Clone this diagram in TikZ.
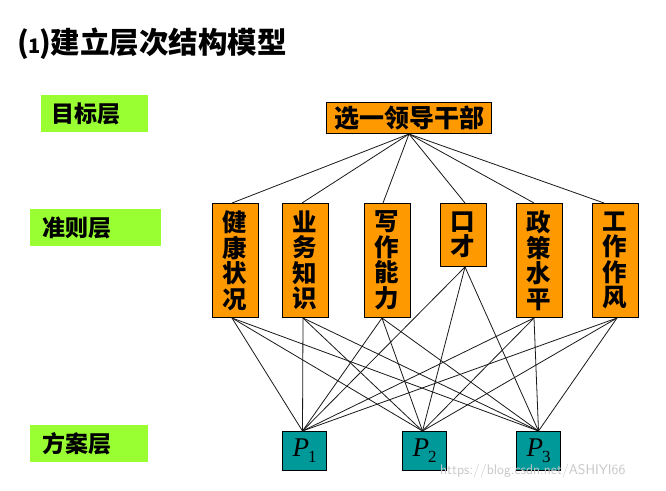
\documentclass[tikz,border=0pt]{standalone}
\usepackage{fontspec}
\newfontfamily\cjk{Noto Sans CJK SC}
\newfontfamily\tnr{Liberation Serif}
\definecolor{orangebox}{HTML}{FF9900}
\definecolor{tealbox}{HTML}{009999}
\definecolor{greenbox}{HTML}{99FF33}
\newcommand{\plabel}[1]{{\tnr\itshape\fontsize{27}{27}\selectfont P}\kern-1pt\raisebox{-6pt}{\tnr\fontsize{17}{17}\selectfont #1}}
\begin{document}
\begin{tikzpicture}[x=1pt,y=-1pt,
  goalbox/.style={draw=black, line width=1pt, fill=orangebox, inner sep=0pt, font=\cjk\bfseries\fontsize{25}{25}\selectfont},
  critbox/.style={draw=black, line width=1pt, fill=orangebox, inner sep=0pt, minimum width=46pt, align=center, font=\cjk\bfseries\fontsize{24.5}{25.5}\selectfont},
  altbox/.style={draw=black, line width=1pt, fill=tealbox, inner sep=0pt, minimum width=44pt, minimum height=39pt},
  levelbox/.style={fill=greenbox, inner sep=0pt, minimum height=37pt, anchor=north west, text width=#1, font=\cjk\bfseries\fontsize{23}{23}\selectfont},
  link/.style={line width=0.8pt, black!90}]
\useasboundingbox (0,0) rectangle (666,490);
\fill[white] (0,0) rectangle (666,490);

% title
\node[anchor=west, inner sep=0pt, font=\cjk\bfseries\fontsize{29.5}{29.5}\selectfont] (title) at (17,44) {(\kern-1pt{\fontsize{20}{20}\selectfont 1}\kern-1pt)建立层次结构模型};

% level labels
\node[levelbox=107pt] (lv1) at (41,95) {\hspace*{10pt}目标层};
\node[levelbox=131pt] (lv2) at (30,209) {\hspace*{12pt}准则层};
\node[levelbox=118pt] (lv3) at (30,425) {\hspace*{12pt}方案层};

% goal
\node[goalbox, minimum width=165pt, minimum height=31pt, anchor=north west] (goal) at (326,102) {选一领导干部};

% criteria
\node[critbox, minimum height=114pt, anchor=north] (c1) at (235,203) {健\\康\\状\\况};
\node[critbox, minimum height=114pt, anchor=north] (c2) at (305,203) {业\\务\\知\\识};
\node[critbox, minimum height=114pt, anchor=north] (c3) at (387,203) {写\\作\\能\\力};
\node[critbox, minimum height=63pt, anchor=north] (c4) at (463,203) {口\\才};
\node[critbox, minimum height=114pt, anchor=north] (c5) at (539,203) {政\\策\\水\\平};
\node[critbox, minimum height=114pt, anchor=north] (c6) at (615,203) {工\\作\\作\\风};

% alternatives
\node[altbox, anchor=north west] (p1) at (282,431) {\plabel{1}};
\node[altbox, anchor=north west] (p2) at (402,431) {\plabel{2}};
\node[altbox, anchor=north west] (p3) at (516,431) {\plabel{3}};

% goal -> criteria
\draw[link] (goal.south) -- ([xshift=-3pt]c1.north);
\draw[link] (goal.south) -- ([xshift=-3pt]c2.north);
\draw[link] (goal.south) -- ([xshift=-4pt]c3.north);
\draw[link] (goal.south) -- ([xshift=2pt]c4.north);
\draw[link] (goal.south) -- ([xshift=-5pt]c5.north);
\draw[link] (goal.south) -- ([xshift=-11pt]c6.north);

% criteria -> alternatives
\foreach \c/\s in {c1/-3pt, c2/-2pt, c3/-5pt, c4/2pt, c5/-5pt, c6/2pt}{
  \draw[link] ([xshift=\s]\c.south) -- ([xshift=-2pt]p1.north);
  \draw[link] ([xshift=\s]\c.south) -- ([xshift=-2pt]p2.north);
  \draw[link] ([xshift=\s]\c.south) -- (p3.north);
}

% watermark
\node[anchor=west, inner sep=0pt, text=black!22, font=\fontsize{14}{14}\sffamily] (wm) at (440,471) {https://blog.csdn.net/ASHIYI66};
\end{tikzpicture}
\end{document}
